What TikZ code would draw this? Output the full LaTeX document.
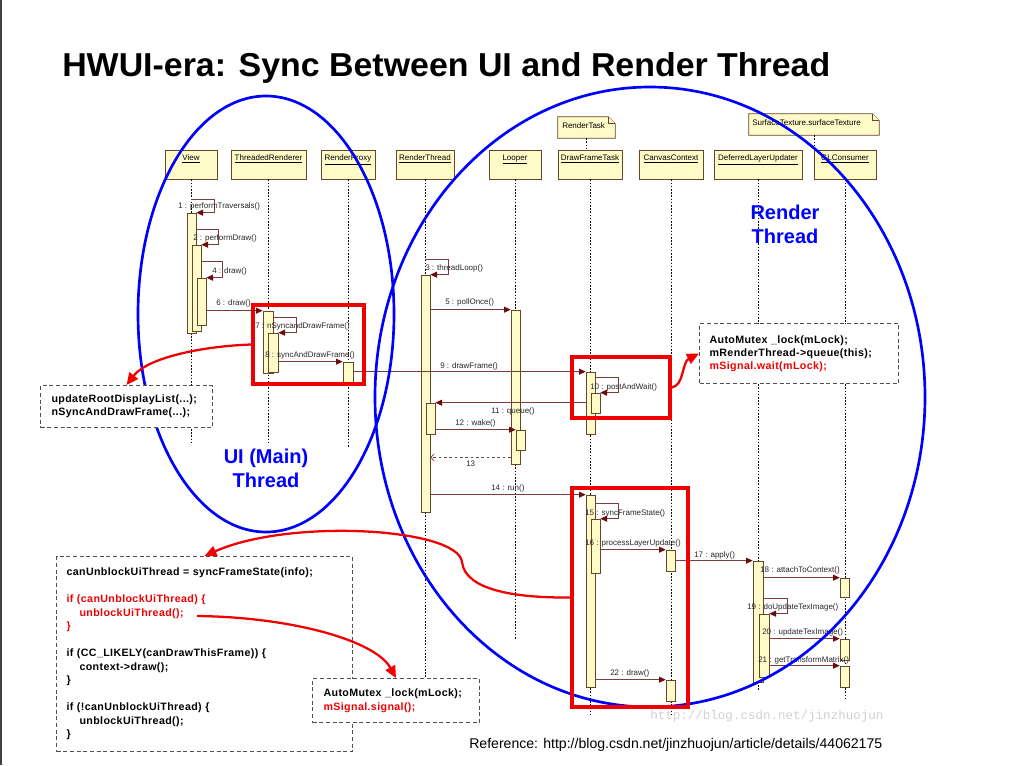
\documentclass[tikz,border=0pt]{standalone}
\usepackage{graphicx}
\usepackage{fontspec}
\setmainfont{Liberation Sans}
\newfontfamily\codefont[LetterSpace=3.5]{Liberation Sans}
\newfontfamily\wmfont{Liberation Mono}
\usetikzlibrary{arrows.meta,fit,calc}
\definecolor{hfill}{RGB}{255,251,200}
\definecolor{hdraw}{RGB}{100,70,40}
\definecolor{msgc}{RGB}{125,60,60}
\definecolor{arrc}{RGB}{110,10,10}
\definecolor{redc}{RGB}{240,0,0}
\definecolor{bluec}{RGB}{0,0,255}
\definecolor{boxc}{RGB}{80,80,80}
\definecolor{lblc}{RGB}{40,40,40}
\begin{document}
\begin{tikzpicture}[x=0.75pt,y=-0.75pt,
  head/.style={draw=hdraw, fill=hfill, line width=0.6pt, inner sep=0pt},
  hlabel/.style={font=\fontsize{6}{7}\selectfont, anchor=north, inner sep=0pt, yshift=-3.5pt, text=black},
  act/.style={draw=hdraw, fill=hfill, line width=0.5pt, inner sep=0pt},
  lifeline/.style={draw=black, line width=0.6pt, dash pattern=on 1.2pt off 1.2pt},
  msg/.style={draw=msgc, line width=0.6pt, -{Triangle[length=5pt,width=4.5pt,color=arrc]}},
  retmsg/.style={draw=msgc, line width=0.5pt, dash pattern=on 2pt off 2pt, -{Straight Barb[length=2.5pt,width=5pt]}},
  mlabel/.style={font=\fontsize{6}{7}\selectfont, text=lblc, inner sep=0pt, anchor=west},
  notebox/.style={inner sep=0pt},
  notedraw/.style={draw=hdraw, fill=hfill, line width=0.5pt},
  redbox/.style={draw=redc, line width=2.5pt, inner sep=0pt},
  blueline/.style={draw=bluec, line width=2pt},
  bluelabel/.style={text=bluec, font=\bfseries\fontsize{15}{18}\selectfont, align=center, inner sep=0pt},
  redarrow/.style={draw=redc, line width=1.7pt, -{Triangle[length=9pt,width=8pt]}},
  codebox/.style={draw=boxc, dash pattern=on 3pt off 2pt, line width=0.8pt, fill=white, align=left, anchor=north west, inner ysep=0pt}
]
\useasboundingbox (0,0) rectangle (1022,765);
\fill[white] (0,0) rectangle (1022,765);
\draw[line width=1.5pt, black!75] (1,0) -- (1,765);

% title
\node[anchor=base west, inner sep=0pt] (title) at (62,76) {\resizebox{576pt}{18pt}{\bfseries HWUI-era: Sync Between UI and Render Thread}};

% lifeline heads
\node[head, fit={(165,150) (217,179)}, label={[hlabel]north:\underline{View}}] (hV) {};
\node[head, fit={(231,150) (306,179)}, label={[hlabel]north:\underline{ThreadedRenderer}}] (hTR) {};
\node[head, fit={(321,150) (375,179)}, label={[hlabel]north:\underline{RenderProxy}}] (hRP) {};
\node[head, fit={(396,150) (454,179)}, label={[hlabel]north:\underline{RenderThread}}] (hRT) {};
\node[head, fit={(489,150) (541,179)}, label={[hlabel]north:\underline{Looper}}] (hLP) {};
\node[head, fit={(558,150) (622,179)}, label={[hlabel]north:\underline{DrawFrameTask}}] (hDF) {};
\node[head, fit={(639,150) (703,179)}, label={[hlabel]north:\underline{CanvasContext}}] (hCC) {};
\node[head, fit={(714,150) (802,179)}, label={[hlabel]north:\underline{DeferredLayerUpdater}}] (hDL) {};
\node[head, fit={(814,150) (876,179)}, label={[hlabel]north:\underline{GLConsumer}}] (hGL) {};

% notes
\node[notebox, fit={(558,117) (615,138)}] (nRT) {};
\draw[notedraw] (nRT.south west) -- (nRT.north west) -- ($(nRT.north east)+(-7,0)$) -- ($(nRT.north east)+(0,7)$) -- (nRT.south east) -- cycle;
\draw[notedraw] ($(nRT.north east)+(-7,0)$) -- ($(nRT.north east)+(-7,7)$) -- ($(nRT.north east)+(0,7)$);
\node[mlabel, text=black] (tRT) at (562,126) {RenderTask};
\draw[lifeline] (nRT.south) -- (nRT.south |- hDF.north);

\node[notebox, fit={(749,114) (879,135)}] (nST) {};
\draw[notedraw] (nST.south west) -- (nST.north west) -- ($(nST.north east)+(-7,0)$) -- ($(nST.north east)+(0,7)$) -- (nST.south east) -- cycle;
\draw[notedraw] ($(nST.north east)+(-7,0)$) -- ($(nST.north east)+(-7,7)$) -- ($(nST.north east)+(0,7)$);
\node[mlabel, text=black] (tST) at (752,123) {SurfaceTexture.surfaceTexture};
\draw[lifeline] (nST.south) -- (nST.south |- hGL.north);

% lifelines
\coordinate (eV) at (191,445);
\coordinate (eTR) at (268.5,445);
\coordinate (eRP) at (348,448);
\coordinate (eRT) at (425,700);
\coordinate (eLP) at (515,640);
\coordinate (eDF) at (590,714);
\coordinate (eCC) at (671,714);
\coordinate (eDL) at (758,690);
\coordinate (eGL) at (845,698);
\draw[lifeline] (hV.south) -- (eV);
\draw[lifeline] (hTR.south) -- (eTR);
\draw[lifeline] (hRP.south) -- (eRP);
\draw[lifeline] (hRT.south) -- (eRT);
\draw[lifeline] (hLP.south) -- (eLP);
\draw[lifeline] (hDF.south) -- (eDF);
\draw[lifeline] (hCC.south) -- (eCC);
\draw[lifeline] (hDL.south) -- (eDL);
\draw[lifeline] (hGL.south) -- (eGL);

% activations
\node[act, fit={(187,213) (196,333)}] (v1) {};
\node[act, fit={(192,245) (201,331)}] (v2) {};
\node[act, fit={(197,278) (206,325)}] (v3) {};
\node[act, fit={(263,311) (273,373)}] (ta) {};
\node[act, fit={(268,333) (278,372)}] (tb) {};
\node[act, fit={(343,362) (353,382)}] (rp) {};
\node[act, fit={(421,275) (430,512)}] (rt) {};
\node[act, fit={(426,403) (435,434)}] (rts) {};
\node[act, fit={(511,310) (520,464)}] (lp) {};
\node[act, fit={(516,430) (525,450)}] (lps) {};
\node[act, fit={(586,372) (595,434)}] (d1) {};
\node[act, fit={(591,393) (600,413)}] (d2) {};
\node[act, fit={(586,495) (595,687)}] (d3) {};
\node[act, fit={(591,519) (600,573)}] (d4) {};
\node[act, fit={(666,550) (675,571)}] (c1) {};
\node[act, fit={(666,680) (675,701)}] (c2) {};
\node[act, fit={(753,561) (763,682)}] (dl1) {};
\node[act, fit={(759,614) (769,677)}] (dl2) {};
\node[act, fit={(840,578) (849,597)}] (g1) {};
\node[act, fit={(840,639) (849,660)}] (g2) {};
\node[act, fit={(840,666) (849,687)}] (g3) {};

% messages
\coordinate (s1) at (191,199);
\draw[msg] (s1) -- ++(23,0) |- (v1.north east);
\draw[msg] ($(v1.north east)+(0,17)$) -- ++(22,0) |- (v2.north east);
\draw[msg] ($(v2.north east)+(0,17)$) -- ++(21,0) |- (v3.north east);
\draw[msg] (v3.east |- ta.north west) -- (ta.north west);
\draw[msg] ($(ta.north east)+(0,7)$) -- ++(23,0) |- (tb.north east);
\draw[msg] (tb.east |- rp.north west) -- (rp.north west);
\draw[msg] (rp.east |- d1.north west) -- (d1.north west);
\coordinate (s3) at (425,259);
\draw[msg] (s3) -- ++(23,0) |- (rt.north east);
\draw[msg] (rt.east |- lp.north west) -- (lp.north west);
\draw[msg] ($(d1.north east)+(0,6)$) -- ++(23,0) |- (d2.north east);
\draw[msg] (d1.west |- rts.north east) -- (rts.north east);
\draw[msg] (rts.east |- lps.north west) -- (lps.north west);
\draw[retmsg] ($(lp.south west)+(0,-7)$) coordinate (r13) -- (rt.east |- r13);
\draw[msg] (rt.east |- d3.north west) -- (d3.north west);
\draw[msg] ($(d3.north east)+(0,9)$) -- ++(23,0) |- (d4.north east);
\draw[msg] (d4.east |- c1.north west) -- (c1.north west);
\draw[msg] (c1.east |- dl1.north west) -- (dl1.north west);
\draw[msg] (dl1.east |- g1.north west) -- (g1.north west);
\draw[msg] ($(dl1.north east)+(0,38)$) -- ++(24,0) |- (dl2.north east);
\draw[msg] (dl2.east |- g2.north west) -- (g2.north west);
\draw[msg] (dl2.east |- g3.north west) -- (g3.north west);
\draw[msg] (d3.east |- c2.north west) -- (c2.north west);

% message labels
\node[mlabel] (l1) at (178,206) {1 : performTraversals()};
\node[mlabel] (l2) at (193,238) {2 : performDraw()};
\node[mlabel] (l4) at (212,271) {4 : draw()};
\node[mlabel] (l6) at (216,303) {6 : draw()};
\node[mlabel] (l7) at (255,326) {7 : nSyncandDrawFrame()};
\node[mlabel] (l8) at (265,355) {8 : syncAndDrawFrame()};
\node[mlabel] (l3) at (425,268) {3 : threadLoop()};
\node[mlabel] (l5) at (445,302) {5 : pollOnce()};
\node[mlabel] (l9) at (440,366) {9 : drawFrame()};
\node[mlabel] (l10) at (590,387) {10 : postAndWait()};
\node[mlabel] (l11) at (491,411) {11 : queue()};
\node[mlabel] (l12) at (455,423) {12 : wake()};
\node[mlabel] (l13) at (466,464) {13};
\node[mlabel] (l14) at (491,488) {14 : run()};
\node[mlabel] (l15) at (585,513) {15 : syncFrameState()};
\node[mlabel] (l16) at (585,543) {16 : processLayerUpdate()};
\node[mlabel] (l17) at (694,555) {17 : apply()};
\node[mlabel] (l18) at (760,570) {18 : attachToContext()};
\node[mlabel] (l19) at (747,607) {19 : doUpdateTexImage()};
\node[mlabel] (l20) at (762,632) {20 : updateTexImage()};
\node[mlabel] (l21) at (758,660) {21 : getTransformMatrix()};
\node[mlabel] (l22) at (610,673) {22 : draw()};

% blue thread ellipses
\draw[blueline] (266,314) ellipse [x radius=96pt, y radius=163.5pt];
\draw[blueline] (650,397) ellipse [x radius=206.25pt, y radius=232.5pt];
\node[bluelabel] (uiT) at (266,468) {UI (Main)\\Thread};
\node[bluelabel, font=\bfseries\fontsize{15}{17.5}\selectfont] (rtT) at (785,224.5) {Render\\Thread};

% red highlight boxes
\node[redbox, fit={(253,305) (364,384)}] (rb1) {};
\node[redbox, fit={(572,357) (670,418)}] (rb2) {};
\node[redbox, fit={(572,488) (688,707)}] (rb3) {};

% dashed code boxes
\node[codebox, minimum width=129pt, minimum height=31.5pt, text width=112.5pt, inner xsep=8.25pt,
      font=\codefont\bfseries\fontsize{8}{9.5}\selectfont] (bUR) at (40,385)
  {updateRootDisplayList(...);\\nSyncAndDrawFrame(...);};
\node[codebox, minimum width=149.25pt, minimum height=45pt, text width=134.25pt, inner xsep=7.5pt,
      font=\codefont\bfseries\fontsize{8}{9.75}\selectfont] (bMA) at (699,323)
  {AutoMutex \_lock(mLock);\\mRenderThread->queue(this);\\\textcolor{redc}{mSignal.wait(mLock);}};
\node[codebox, minimum width=222pt, minimum height=146.25pt, text width=207pt, inner xsep=7.5pt,
      font=\codefont\bfseries\fontsize{8}{10.125}\selectfont] (bCode) at (56,556)
  {canUnblockUiThread = syncFrameState(info);\\
   ~\\
   \textcolor{redc}{if (canUnblockUiThread) \{}\\
   \textcolor{redc}{\hspace*{9.75pt}unblockUiThread();}\\
   \textcolor{redc}{\}}\\
   ~\\
   if (CC\_LIKELY(canDrawThisFrame)) \{\\
   \hspace*{9.75pt}context->draw();\\
   \}\\
   ~\\
   if (!canUnblockUiThread) \{\\
   \hspace*{9.75pt}unblockUiThread();\\
   \}};
\node[codebox, minimum width=125.25pt, minimum height=33pt, text width=108.75pt, inner xsep=8.25pt,
      font=\codefont\bfseries\fontsize{8}{10.5}\selectfont] (bMB) at (312,678)
  {AutoMutex \_lock(mLock);\\\textcolor{redc}{mSignal.signal();}};

% red arrows
\draw[redarrow] (rb1.west) .. controls (205,346) and (148,357) .. (bUR.north);
\draw[redarrow] (rb2.east) .. controls (684,386) and (682,362) .. (bMA.west);
\draw[redarrow] (rb3.west) .. controls (515,598) and (465,590) .. (462,562) .. controls (458,528) and (290,518) .. (bCode.north);
\coordinate (u4) at (197,616);
\draw[redarrow] (u4) .. controls (290,617) and (375,640) .. (bMB.north);

% watermark and reference
\node[anchor=west, inner sep=0pt, text=black!18, font=\wmfont\fontsize{9.4}{11}\selectfont] (wm) at (650,716) {http://blog.csdn.net/jinzhuojun};
\node[anchor=base west, inner sep=0pt] (ref) at (469,748) {\resizebox{309.75pt}{!}{\fontsize{10.5}{12}\selectfont Reference: http://blog.csdn.net/jinzhuojun/article/details/44062175}};
\end{tikzpicture}
\end{document}
